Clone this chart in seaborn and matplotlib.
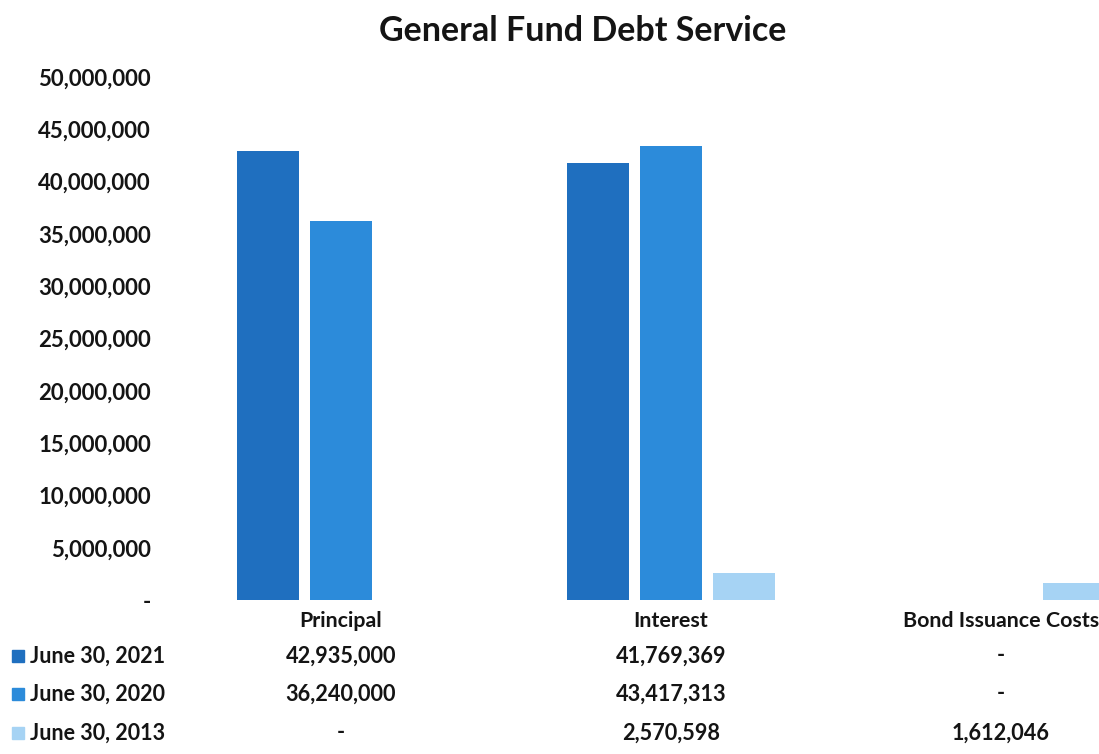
import matplotlib
matplotlib.use("Agg")
import matplotlib.pyplot as plt
import matplotlib.transforms as mtransforms
from matplotlib.patches import Rectangle
from matplotlib.ticker import FuncFormatter, MultipleLocator
import pandas as pd
import seaborn as sns

# Debt service categories and fiscal-year series
categories = ["Principal", "Interest", "Bond Issuance Costs"]
series = ["June 30, 2021", "June 30, 2020", "June 30, 2013"]
values_2021 = [42935000, 41769369, 0]
values_2020 = [36240000, 43417313, 0]
values_2013 = [0, 2570598, 1612046]
colors = ["#1F6FBF", "#2C8BDA", "#A6D3F4"]

series_values = [values_2021, values_2020, values_2013]
df = pd.DataFrame(
    [(cat, s, v) for s, vals in zip(series, series_values) for cat, v in zip(categories, vals)],
    columns=["category", "series", "value"],
)

sns.set_theme(style="white")
plt.rcParams["font.family"] = ["Lato", "DejaVu Sans"]

fig = plt.figure(figsize=(10.99, 7.54), dpi=100)
ax = fig.add_axes([0.1601, 0.2042, 0.901, 0.6937])

sns.barplot(
    data=df, x="category", y="value", hue="series", order=categories,
    hue_order=series, palette=colors, width=0.664, gap=0.15, saturation=1,
    linewidth=0, dodge=True, legend=False, ax=ax,
)

ax.set_ylim(0, 50_000_000)
ax.yaxis.set_major_locator(MultipleLocator(5_000_000))
ax.yaxis.set_major_formatter(FuncFormatter(lambda v, _: "-" if v == 0 else f"{v:,.0f}"))
ax.tick_params(axis="y", length=0, pad=18, labelsize=16)
for lbl in ax.get_yticklabels():
    lbl.set_fontweight("bold")
    lbl.set_color("#141414")
ax.set_xticks([])
ax.set_xlabel("")
ax.set_ylabel("")
sns.despine(ax=ax, left=True, bottom=True)

fig.suptitle("General Fund Debt Service", x=0.53, y=0.98, fontsize=24.5,
             fontweight="bold", color="#141414")

# Data table under the plot
trans = mtransforms.blended_transform_factory(ax.transData, fig.transFigure)
text_kw = dict(fontweight="bold", color="#141414", va="center")
for i, cat in enumerate(categories):
    fig.text(i, 0.1764, cat, ha="center", transform=trans, fontsize=15.4, **text_kw)

row_y = [0.130, 0.0796, 0.0279]
for s, vals, col, y in zip(series, series_values, colors, row_y):
    fig.patches.append(Rectangle((12 / 1099, y - 6 / 754), 12 / 1099, 12 / 754,
                                 transform=fig.transFigure, color=col, figure=fig))
    fig.text(30 / 1099, y, s, ha="left", fontsize=15.5, **text_kw)
    for i, v in enumerate(vals):
        fig.text(i, y, "-" if v == 0 else f"{v:,.0f}", ha="center", transform=trans,
                 fontsize=15.6, **text_kw)

fig.savefig("out.png", dpi=100)
